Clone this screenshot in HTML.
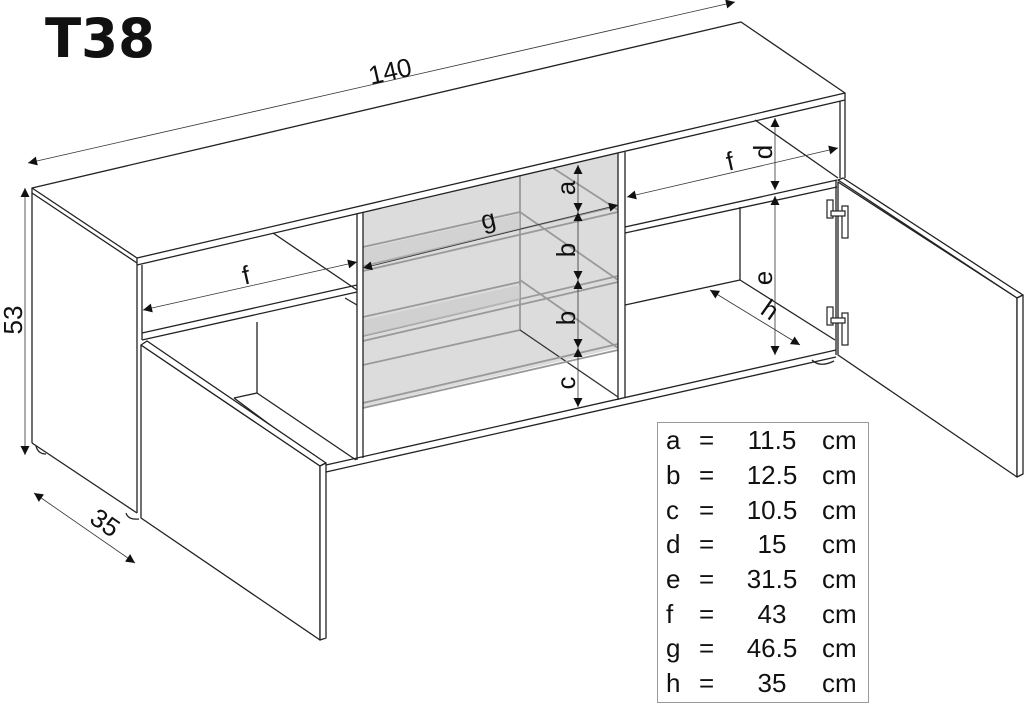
<!DOCTYPE html>
<html><head><meta charset="utf-8"><style>
html,body{margin:0;padding:0;background:#fff;}
svg{display:block;}
text{font-family:"Liberation Sans",sans-serif;fill:#111;}
</style></head><body>
<svg width="1024" height="704" viewBox="0 0 1024 704" xmlns="http://www.w3.org/2000/svg">
<defs>
<marker id="ar" viewBox="0 0 10 10" refX="10" refY="5" markerWidth="16" markerHeight="9" markerUnits="userSpaceOnUse" orient="auto-start-reverse"><path d="M0,0 L10,5 L0,10 z" fill="#111"/></marker>
</defs>
<text x="45" y="57" font-size="54" font-weight="bold" style="font-family:'DejaVu Sans','Liberation Sans',sans-serif" textLength="110" lengthAdjust="spacingAndGlyphs">T38</text>

<!-- glass compartment grey -->
<polygon points="363,212 618,153 618,348 363,407" fill="#dcdcdc"/>
<g stroke="#999" stroke-width="1.8" fill="none">
<line x1="520" y1="175" x2="520" y2="330"/>
<line x1="363" y1="365" x2="520" y2="330"/>
<line x1="520" y1="330" x2="618" y2="397" stroke="#333" stroke-width="1.3"/>
<line x1="363" y1="247" x2="520" y2="212"/>
<polyline points="363,266 618,206"/><polyline points="363,271 618,212"/>
<line x1="553" y1="168" x2="618" y2="210"/>
<line x1="363" y1="317" x2="520" y2="282"/>
<polyline points="363,336 618,276"/><polyline points="363,341 618,282"/>
<line x1="520" y1="212" x2="618" y2="280"/>
<polyline points="363,403 618,344"/><polyline points="363,408 618,350"/>
<line x1="520" y1="280" x2="618" y2="348"/>
</g>
<polygon points="363,320 520,285 520,300 363,336" fill="#c8c8c8" opacity="0.6"/>
<polygon points="363,249 520,214 520,230 363,266" fill="#c8c8c8" opacity="0.5"/>

<g stroke="#222" stroke-width="1.3" fill="none" stroke-linejoin="round">
<polygon points="32,188 741,22 845,93 137,258" fill="#fff"/>
<line x1="32" y1="193" x2="137" y2="263"/>
<line x1="137" y1="265" x2="845" y2="100"/>
<line x1="137" y1="258" x2="137" y2="265"/>
<line x1="845" y1="93" x2="845" y2="178"/>
<line x1="840" y1="101" x2="840" y2="178"/>
<line x1="32" y1="188" x2="32" y2="443"/>
<line x1="137" y1="265" x2="137" y2="513"/>
<line x1="142" y1="265" x2="142" y2="340"/>
<line x1="32" y1="443" x2="137" y2="513"/>
<path d="M36,446 q2,8 10,8 M126,513 q2,7 13,6"/>
<line x1="273" y1="233" x2="357" y2="290"/>
<line x1="142" y1="333" x2="357" y2="285"/>
<line x1="142" y1="340" x2="357" y2="292"/>
<line x1="345" y1="298" x2="357" y2="305"/>
<line x1="257" y1="322" x2="257" y2="393"/>
<line x1="234" y1="398" x2="257" y2="393"/>
<line x1="257" y1="393" x2="356" y2="460"/>
<line x1="234" y1="398" x2="320" y2="462"/>
<line x1="357" y1="214" x2="357" y2="460"/>
<line x1="363" y1="212" x2="363" y2="458"/>
<line x1="618" y1="153" x2="618" y2="400"/>
<line x1="625" y1="152" x2="625" y2="398"/>
<line x1="326" y1="465" x2="836" y2="350"/>
<line x1="326" y1="472" x2="836" y2="357"/>
<path d="M812,360 q8,8 22,1"/>
<polygon points="141,345 320,466 320,640 141,518" fill="#fff"/>
<polygon points="141,345 147,341 326,463 320,466" fill="#fff"/>
<polygon points="320,466 326,463 326,638 320,640" fill="#fff"/>
<line x1="625" y1="227" x2="837" y2="180"/>
<line x1="625" y1="233" x2="837" y2="187"/>
<line x1="755" y1="120" x2="838" y2="178"/>
<line x1="740" y1="207" x2="740" y2="280"/>
<line x1="625" y1="305" x2="740" y2="280"/>
<line x1="740" y1="280" x2="835" y2="340"/>
<line x1="836" y1="180" x2="836" y2="355"/>
<polygon points="838,180 843,178 1023,295 1017,298" fill="#fff"/>
<polygon points="838,182 1017,298 1017,477 838,355" fill="#fff"/>
<polygon points="1017,298 1023,295 1023,474 1017,477" fill="#fff"/>
</g>
<g stroke="#222" stroke-width="1.2" fill="#fff">
<rect x="827" y="200" width="6" height="18"/><rect x="842" y="206" width="6" height="32"/><rect x="831" y="211" width="14" height="5"/>
<rect x="827" y="307" width="6" height="18"/><rect x="842" y="313" width="6" height="32"/><rect x="831" y="318" width="14" height="5"/>
</g>

<g stroke="#333" stroke-width="0.8" fill="none" marker-start="url(#ar)" marker-end="url(#ar)">
<line x1="28" y1="163" x2="735" y2="2"/>
<line x1="25" y1="188" x2="25" y2="455"/>
<line x1="34" y1="493" x2="135" y2="563"/>
<line x1="143" y1="310" x2="357" y2="262"/>
<line x1="627" y1="197" x2="838" y2="148"/>
<line x1="363" y1="268" x2="618" y2="205"/>
<line x1="578" y1="165" x2="578" y2="212"/>
<line x1="578" y1="212" x2="578" y2="280"/>
<line x1="578" y1="280" x2="578" y2="348"/>
<line x1="578" y1="348" x2="578" y2="407"/>
<line x1="775" y1="118" x2="775" y2="190"/>
<line x1="775" y1="196" x2="775" y2="355"/>
<line x1="710" y1="290" x2="800" y2="345"/>
</g>
<g font-size="26">
<text transform="translate(392,80) rotate(-12.8)" text-anchor="middle">140</text>
<text transform="translate(22,320) rotate(-90)" text-anchor="middle">53</text>
<text transform="translate(100,530) rotate(35)" text-anchor="middle">35</text>
<text transform="translate(248,284) rotate(-12.8)" text-anchor="middle">f</text>
<text transform="translate(732,170) rotate(-12.8)" text-anchor="middle">f</text>
<text transform="translate(490,228) rotate(-12.8)" text-anchor="middle">g</text>
<text transform="translate(575,188) rotate(-90)" text-anchor="middle">a</text>
<text transform="translate(575,250) rotate(-90)" text-anchor="middle">b</text>
<text transform="translate(575,318) rotate(-90)" text-anchor="middle">b</text>
<text transform="translate(575,383) rotate(-90)" text-anchor="middle">c</text>
<text transform="translate(772,152) rotate(-90)" text-anchor="middle">d</text>
<text transform="translate(772,278) rotate(-90)" text-anchor="middle">e</text>
<text transform="translate(765,317) rotate(35)" text-anchor="middle">h</text>
</g>

<rect x="657.5" y="422.5" width="211" height="280" fill="#fff" stroke="#999" stroke-width="1"/>
<g font-size="26">
<text x="666" y="449">a</text><text x="699" y="449">=</text><text x="772" y="449" text-anchor="middle">11.5</text><text x="822" y="449">cm</text>
<text x="666" y="484">b</text><text x="699" y="484">=</text><text x="772" y="484" text-anchor="middle">12.5</text><text x="822" y="484">cm</text>
<text x="666" y="519">c</text><text x="699" y="519">=</text><text x="772" y="519" text-anchor="middle">10.5</text><text x="822" y="519">cm</text>
<text x="666" y="553">d</text><text x="699" y="553">=</text><text x="772" y="553" text-anchor="middle">15</text><text x="822" y="553">cm</text>
<text x="666" y="588">e</text><text x="699" y="588">=</text><text x="772" y="588" text-anchor="middle">31.5</text><text x="822" y="588">cm</text>
<text x="666" y="623">f</text><text x="699" y="623">=</text><text x="772" y="623" text-anchor="middle">43</text><text x="822" y="623">cm</text>
<text x="666" y="657">g</text><text x="699" y="657">=</text><text x="772" y="657" text-anchor="middle">46.5</text><text x="822" y="657">cm</text>
<text x="666" y="692">h</text><text x="699" y="692">=</text><text x="772" y="692" text-anchor="middle">35</text><text x="822" y="692">cm</text>
</g>
</svg>
</body></html>
